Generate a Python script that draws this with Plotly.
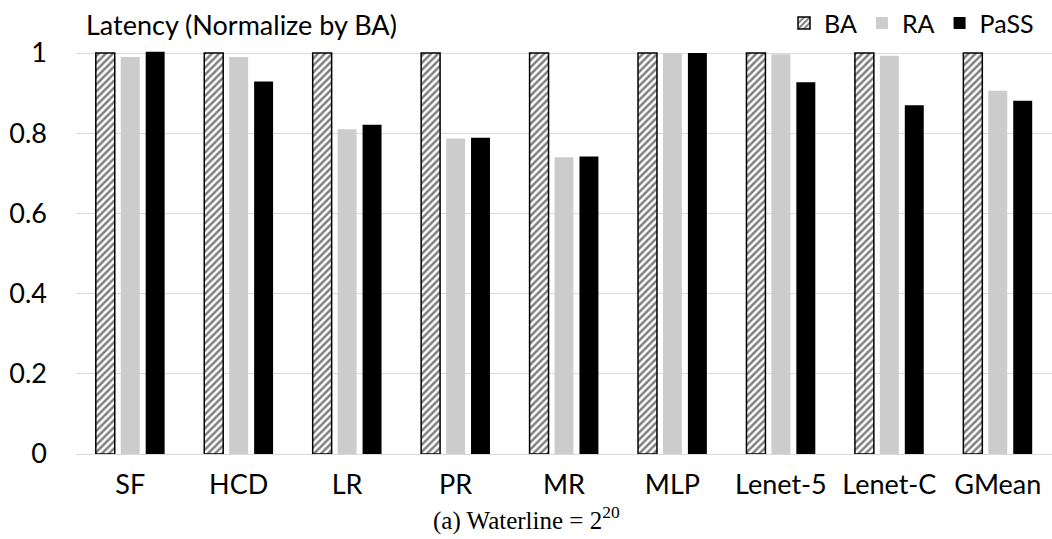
import plotly.graph_objects as go

categories = ["SF", "HCD", "LR", "PR", "MR", "MLP", "Lenet-5", "Lenet-C", "GMean"]
ba = [1.0, 1.0, 1.0, 1.0, 1.0, 1.0, 1.0, 1.0, 1.0]
ra = [0.990, 0.990, 0.810, 0.787, 0.740, 1.0, 0.997, 0.993, 0.906]
pass_ = [1.003, 0.929, 0.821, 0.789, 0.742, 1.0, 0.927, 0.870, 0.881]
yticks = [0, 0.2, 0.4, 0.6, 0.8, 1]
ytick_text = ["0", "0.2", "0.4", "0.6", "0.8", "1"]

W, H = 1052, 539
ML, MR_, MT, MB = 76, 0, 35, 85
plot_w = W - ML - MR_
plot_h = H - MT - MB

def py(pix):
    # pixel row -> paper y
    return 1 + (MT - pix) / plot_h

def px(pix):
    return (pix - ML) / plot_w

fig = go.Figure()
fig.add_trace(go.Bar(
    x=categories, y=ba, name="BA",
    marker=dict(color="white", line=dict(color="black", width=1.5),
                pattern=dict(shape="/", fgcolor="black", bgcolor="white", size=5, solidity=0.5)),
))
fig.add_trace(go.Bar(
    x=categories, y=ra, name="RA",
    marker=dict(color="#cccccc", line=dict(width=0)),
))
fig.add_trace(go.Bar(
    x=categories, y=pass_, name="PaSS",
    marker=dict(color="black", line=dict(width=0)),
))

font = "Lato, 'Open Sans', sans-serif"

fig.update_layout(
    width=W, height=H,
    margin=dict(l=ML, r=MR_, t=MT, b=MB),
    paper_bgcolor="white", plot_bgcolor="white",
    barmode="group", bargap=0.31, bargroupgap=0.24,
    font=dict(family=font, size=27, color="black"),
    showlegend=True,
    legend=dict(orientation="h", x=px(1039), xanchor="right", y=py(17), yanchor="middle",
                font=dict(size=25, family=font), bgcolor="rgba(0,0,0,0)",
                itemwidth=30, tracegroupgap=0),
    annotations=[
        dict(text="Latency (Normalize by BA)", xref="paper", yref="paper",
             x=px(84), y=py(18), xanchor="left", yanchor="middle",
             showarrow=False, font=dict(size=27, family=font)),
        dict(text="(a) Waterline = 2<sup>20</sup>", xref="paper", yref="paper",
             x=px(526), y=py(519), xanchor="center", yanchor="middle",
             showarrow=False,
             font=dict(size=25, family="'Liberation Serif', 'Times New Roman', serif")),
    ],
)
fig.update_yaxes(
    range=[0, 1.03], tickvals=yticks, ticktext=ytick_text,
    showgrid=True, gridcolor="#d9d9d9", gridwidth=1,
    zeroline=False, showline=False, ticks="", ticklabelstandoff=28,
    tickfont=dict(size=27, family=font),
)
fig.update_xaxes(
    showline=True, linecolor="#d9d9d9", linewidth=1, ticks="",
    ticklabelstandoff=7, tickfont=dict(size=27, family=font),
)

fig.write_html("out.html")
